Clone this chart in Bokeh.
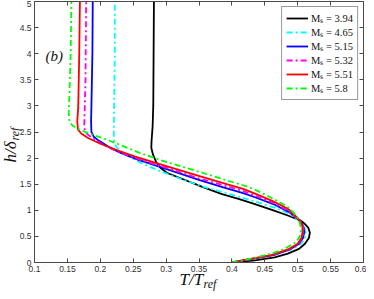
from bokeh.plotting import figure
from bokeh.models import Range1d, LinearAxis, FixedTicker, Label, Legend, LegendItem, ColumnDataSource, Title
from bokeh.embed import file_html
from bokeh.resources import INLINE

# ---------------- data ----------------
ms_labels = ["Mₛ = 3.94", "Mₛ = 4.65", "Mₛ = 5.15", "Mₛ = 5.32", "Mₛ = 5.51", "Mₛ = 5.8"]

h_394 = [0, 0.04, 0.10, 0.17, 0.26, 0.36, 0.47, 0.57, 0.67, 0.75, 0.80, 0.90, 1.00, 1.12, 1.22, 1.31,
         1.45, 1.60, 1.72, 1.82, 1.92, 2.07, 2.20, 2.35, 2.60, 3.0, 4.0, 5.0]
T_394 = [0.400, 0.435, 0.465, 0.485, 0.502, 0.511, 0.517, 0.5185, 0.516, 0.510, 0.505, 0.485, 0.463,
         0.435, 0.410, 0.385, 0.355, 0.325, 0.301, 0.291, 0.285, 0.280, 0.2775, 0.278, 0.2795, 0.2805,
         0.281, 0.2815]

h_465 = [0, 0.05, 0.14, 0.25, 0.36, 0.46, 0.55, 0.65, 0.75, 0.85, 0.95, 1.05, 1.15, 1.25, 1.34, 1.45,
         1.60, 1.75, 1.90, 2.05, 2.15, 2.22, 2.30, 2.5, 3.0, 4.0, 5.0]
T_465 = [0.400, 0.422, 0.465, 0.491, 0.505, 0.511, 0.5125, 0.511, 0.506, 0.497, 0.485, 0.465, 0.440,
         0.413, 0.388, 0.357, 0.323, 0.291, 0.263, 0.241, 0.229, 0.224, 0.221, 0.2205, 0.221, 0.222, 0.222]

h_515 = [0, 0.05, 0.14, 0.25, 0.36, 0.47, 0.58, 0.68, 0.80, 0.90, 0.98, 1.12, 1.25, 1.33, 1.44, 1.58,
         1.72, 1.85, 1.97, 2.10, 2.20, 2.27, 2.34, 2.41, 2.5, 2.7, 3.0, 4.0, 5.0]
T_515 = [0.400, 0.421, 0.463, 0.488, 0.502, 0.508, 0.510, 0.509, 0.504, 0.494, 0.485, 0.463, 0.435,
         0.417, 0.387, 0.351, 0.317, 0.286, 0.257, 0.231, 0.215, 0.206, 0.197, 0.190, 0.1865, 0.186,
         0.1865, 0.188, 0.1885]

h_532 = [0, 0.05, 0.14, 0.25, 0.36, 0.48, 0.59, 0.70, 0.80, 0.90, 1.00, 1.14, 1.28, 1.37, 1.47, 1.61,
         1.75, 1.88, 2.00, 2.12, 2.25, 2.37, 2.45, 2.51, 2.6, 2.8, 3.5, 5.0]
T_532 = [0.400, 0.421, 0.462, 0.487, 0.501, 0.507, 0.509, 0.508, 0.504, 0.495, 0.484, 0.463, 0.435,
         0.417, 0.390, 0.350, 0.316, 0.283, 0.253, 0.227, 0.205, 0.190, 0.181, 0.177, 0.1755, 0.176,
         0.1775, 0.1785]

h_551 = [0, 0.05, 0.14, 0.25, 0.36, 0.48, 0.60, 0.70, 0.77, 0.90, 1.03, 1.17, 1.31, 1.41, 1.50, 1.65,
         1.78, 1.91, 2.03, 2.15, 2.27, 2.38, 2.47, 2.55, 2.7, 3.0, 4.0, 5.0]
T_551 = [0.400, 0.420, 0.460, 0.485, 0.500, 0.506, 0.5075, 0.507, 0.505, 0.496, 0.485, 0.463, 0.437,
         0.417, 0.392, 0.352, 0.318, 0.284, 0.253, 0.226, 0.201, 0.182, 0.171, 0.166, 0.165, 0.1665,
         0.168, 0.169]

h_58 = [0, 0.05, 0.10, 0.17, 0.25, 0.39, 0.50, 0.61, 0.72, 0.84, 0.95, 1.06, 1.20, 1.31, 1.41, 1.48,
        1.57, 1.70, 1.83, 1.96, 2.10, 2.26, 2.38, 2.47, 2.55, 2.62, 2.70, 2.85, 3.2, 4.0, 5.0]
T_58 = [0.400, 0.420, 0.437, 0.460, 0.478, 0.4975, 0.503, 0.505, 0.504, 0.501, 0.494, 0.485, 0.466,
        0.449, 0.433, 0.417, 0.393, 0.360, 0.326, 0.292, 0.260, 0.229, 0.204, 0.183, 0.168, 0.158,
        0.153, 0.152, 0.153, 0.155, 0.156]

x_ticks = [0.1, 0.15, 0.2, 0.25, 0.3, 0.35, 0.4, 0.45, 0.5, 0.55, 0.6]
x_tick_labels = ["0.1", "0.15", "0.2", "0.25", "0.3", "0.35", "0.4", "0.45", "0.5", "0.55", "0.6"]
y_ticks = [0, 0.5, 1, 1.5, 2, 2.5, 3, 3.5, 4, 4.5, 5]
y_tick_labels = ["0", "0.5", "1", "1.5", "2", "2.5", "3", "3.5", "4", "4.5", "5"]

# ---------------- styling ----------------
DASHDOT = "6 3 2 3"
series = [
    (T_394, h_394, "#000000", "solid"),
    (T_465, h_465, "#00ffff", DASHDOT),
    (T_515, h_515, "#0000ff", "solid"),
    (T_532, h_532, "#ff00ff", DASHDOT),
    (T_551, h_551, "#ff0000", "solid"),
    (T_58, h_58, "#00ff00", DASHDOT),
]

AX = "#4a4a4a"
TICKC = "#333333"
SERIF = "Liberation Serif"
SANS = "Liberation Sans"
TXT = "#111111"
W, H = 366, 291

p = figure(width=W, height=H, output_backend="svg", toolbar_location=None,
           x_range=Range1d(0.1, 0.6), y_range=Range1d(0, 5),
           min_border_left=34, min_border_right=3, min_border_top=1, min_border_bottom=29,
           background_fill_color="white", border_fill_color="white")
p.xgrid.visible = False
p.ygrid.visible = False
p.outline_line_color = AX
p.outline_line_width = 1

def style_axis(ax, ticks, overrides, show_labels):
    ax.ticker = FixedTicker(ticks=ticks)
    ax.major_tick_in = 4
    ax.major_tick_out = 0
    ax.minor_tick_in = 0
    ax.minor_tick_out = 0
    ax.axis_line_color = AX
    ax.major_tick_line_color = AX
    ax.major_label_text_font = SANS
    ax.major_label_text_color = TICKC
    if show_labels:
        ax.major_label_overrides = overrides
        ax.major_label_text_font_size = "8.5px"
        ax.major_label_standoff = 3
    else:
        ax.major_label_text_font_size = "0px"
        ax.major_label_standoff = 0
        ax.major_label_text_alpha = 0

style_axis(p.xaxis[0], x_ticks, {t: s for t, s in zip(x_ticks, x_tick_labels)}, True)
style_axis(p.yaxis[0], y_ticks, {t: s for t, s in zip(y_ticks, y_tick_labels)}, True)

top_ax = LinearAxis()
right_ax = LinearAxis()
style_axis(top_ax, x_ticks, {}, False)
style_axis(right_ax, y_ticks, {}, False)
p.add_layout(top_ax, "above")
p.add_layout(right_ax, "right")

items = []
for (T, h, col, dash), lab in zip(series, ms_labels):
    src = ColumnDataSource(dict(T=T, h=h))
    r = p.line("T", "h", source=src, line_color=col, line_width=1.8, line_dash=dash)
    items.append(LegendItem(label=lab, renderers=[r]))

legend = Legend(items=items, location="top_right")
legend.label_text_font = SERIF
legend.label_text_font_size = "10.5px"
legend.label_text_color = TXT
legend.glyph_width = 22
legend.glyph_height = 10
legend.label_height = 10
legend.spacing = 0
legend.padding = 4
legend.margin = 5
legend.label_standoff = 3
legend.border_line_color = "#333333"
legend.border_line_width = 1
legend.background_fill_color = "white"
legend.background_fill_alpha = 1
p.add_layout(legend)

# panel tag
p.add_layout(Label(x=0.13, y=3.95, text="(b)", text_font=SERIF, text_font_style="italic",
                   text_font_size="15px", text_align="center", text_baseline="middle",
                   text_color=TXT))

# x-axis label T/T_ref, as side-panel titles (main part + subscript)
p.add_layout(Title(text="T/T", text_font=SERIF, text_font_style="italic", text_font_size="17px",
                   text_color=TXT, align="left", vertical_align="bottom", offset=145, standoff=-14),
             "below")
p.add_layout(Title(text="ref", text_font=SERIF, text_font_style="italic", text_font_size="12px",
                   text_color=TXT, align="left", vertical_align="bottom", offset=169, standoff=-13),
             "below")

# y-axis label h/delta_ref
p.add_layout(Title(text="ref", text_font=SERIF, text_font_style="italic", text_font_size="12px",
                   text_color=TXT, align="left", vertical_align="bottom", offset=122, standoff=-11),
             "left")
p.add_layout(Title(text="h/δ", text_font=SERIF, text_font_style="italic", text_font_size="17px",
                   text_color=TXT, align="left", vertical_align="bottom", offset=100, standoff=-16),
             "left")

open("out.html", "w").write(file_html(p, INLINE))
